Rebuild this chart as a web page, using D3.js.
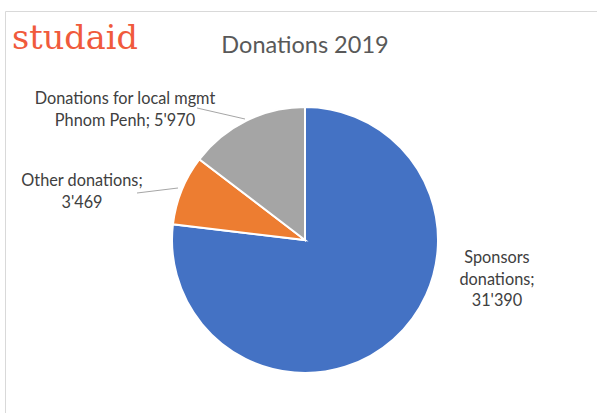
<!DOCTYPE html>
<html lang="en">
<head>
  <meta charset="UTF-8">
  <title>Donations 2019</title>
  <script src="https://d3js.org/d3.v7.min.js"></script>
  <style>
    body { margin: 0; background: #fff; }
    svg { display: block; }
  </style>
</head>
<body>
  <svg id="chart"></svg>
  <script>
    // data
    const categories = ['Sponsors donations', 'Other donations', 'Donations for local mgmt Phnom Penh'];
    const values = [31390, 3469, 5970];
    const colors = ['#4472c4', '#ed7d31', '#a5a5a5'];
    const labelLines = [
      ['Sponsors', 'donations;', "31'390"],
      ['Other donations;', "3'469"],
      ['Donations for local mgmt', "Phnom Penh; 5'970"]
    ];

    const width = 597, height = 413;
    const cx = 305, cy = 240, radius = 133;

    const svg = d3.select('#chart')
      .attr('width', width)
      .attr('height', height);

    // chart frame (only top & left edges visible in the crop)
    svg.append('line').attr('x1', 5.5).attr('y1', 11.5).attr('x2', width).attr('y2', 11.5)
      .attr('stroke', '#d9d9d9').attr('stroke-width', 1);
    svg.append('line').attr('x1', 5.5).attr('y1', 11.5).attr('x2', 5.5).attr('y2', height)
      .attr('stroke', '#d9d9d9').attr('stroke-width', 1);

    // logo
    svg.append('text')
      .attr('x', 12).attr('y', 49)
      .attr('font-family', 'DejaVu Serif, serif')
      .attr('font-size', 33)
      .attr('textLength', 126)
      .attr('lengthAdjust', 'spacingAndGlyphs')
      .attr('fill', '#f05a3c')
      .text('studaid');

    // title
    svg.append('text')
      .attr('x', cx).attr('y', 53)
      .attr('text-anchor', 'middle')
      .attr('font-family', 'Lato, sans-serif')
      .attr('font-size', 23.5)
      .attr('fill', '#595959')
      .text('Donations 2019');

    const pie = d3.pie().sort(null).value(d => d)(values);
    const arc = d3.arc().innerRadius(0).outerRadius(radius);

    const g = svg.append('g').attr('transform', `translate(${cx},${cy})`);
    g.selectAll('path')
      .data(pie)
      .enter()
      .append('path')
      .attr('d', arc)
      .attr('fill', (d, i) => colors[i])
      .attr('stroke', '#fff')
      .attr('stroke-width', 2);

    // labels
    const labelPos = [
      { x: 497, y: 263 },
      { x: 82, y: 186 },
      { x: 125, y: 104 }
    ];
    const lineH = 21.5;
    labelLines.forEach((lines, i) => {
      const t = svg.append('text')
        .attr('text-anchor', 'middle')
        .attr('font-family', 'Lato, sans-serif')
        .attr('font-size', 16.3)
        .attr('fill', '#404040');
      lines.forEach((s, j) => {
        t.append('tspan').attr('x', labelPos[i].x).attr('y', labelPos[i].y + j * lineH).text(s);
      });
    });

    // leader lines
    const leaders = [
      [[137, 193], [178, 188]],
      [[197, 108], [245, 119]]
    ];
    svg.selectAll('.leader')
      .data(leaders)
      .enter()
      .append('path')
      .attr('class', 'leader')
      .attr('d', d3.line())
      .attr('fill', 'none')
      .attr('stroke', '#a6a6a6')
      .attr('stroke-width', 1);
  </script>
</body>
</html>
